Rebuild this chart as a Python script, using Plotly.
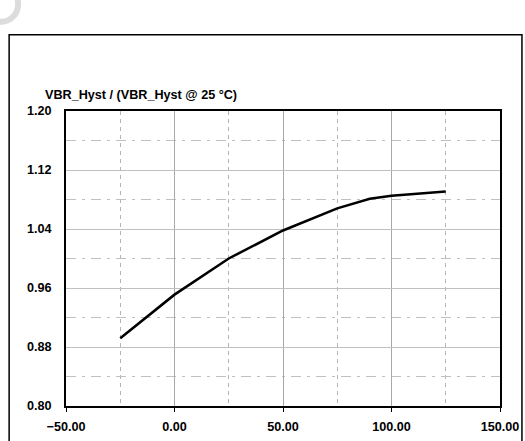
import plotly.graph_objects as go

temps = [-25, 0, 25, 50, 75, 90, 100, 125]
ratio = [0.892, 0.951, 1.000, 1.038, 1.068, 1.081, 1.085, 1.091]
x_ticks = [-50, 0, 50, 100, 150]
y_ticks = [0.80, 0.88, 0.96, 1.04, 1.12, 1.20]
x_minor = [-25, 25, 75, 125]
y_minor = [0.84, 0.92, 1.00, 1.08, 1.16]
title = "VBR_Hyst / (VBR_Hyst @ 25 °C)"

S = 1.011
W, H = round(525 * S), round(441 * S)
L, R, T, B = 65 * S, 500 * S, 110 * S, 404 * S

def px(x):
    return (x * S - L) / (R - L)

def py(y):
    return (B - y * S) / (B - T)

fig = go.Figure()
fig.add_trace(go.Scatter(x=temps, y=ratio, mode="lines",
                         line=dict(color="black", width=2.5 * S), showlegend=False))

font = dict(family="Liberation Sans, Arial", size=12.5 * S, color="black", weight="bold")

fig.update_layout(
    width=W, height=H,
    margin=dict(l=L, r=W - R, t=T, b=H - B),
    paper_bgcolor="white", plot_bgcolor="white",
    xaxis=dict(range=[-50, 150], tickvals=x_ticks, tickformat=".2f",
               showgrid=True, gridcolor="#a8a8a8", gridwidth=1,
               showline=True, linecolor="black", linewidth=2, mirror=True,
               ticks="outside", ticklen=4, tickcolor="black", tickwidth=1,
               tickfont=font, zeroline=False, ticklabelstandoff=4,
               minor=dict(tickvals=x_minor, showgrid=True, gridcolor="#b4b4b4",
                          gridwidth=1, griddash="4px,4px")),
    yaxis=dict(range=[0.8, 1.2], tickvals=y_ticks, tickformat=".2f",
               showgrid=True, gridcolor="#c0c0c0", gridwidth=1.2,
               showline=True, linecolor="black", linewidth=2, mirror=True,
               ticks="", ticklabelstandoff=10,
               tickfont=font, zeroline=False,
               minor=dict(tickvals=y_minor, showgrid=True, gridcolor="#c0c0c0",
                          gridwidth=1.2, griddash="10px,6px,3px,6px")),
    annotations=[dict(text="<b>" + title + "</b>", x=px(42), y=py(94),
                      xref="paper", yref="paper", xanchor="left", yanchor="middle",
                      showarrow=False,
                      font=dict(family="Liberation Sans, Arial", size=12.5 * S, color="black"))],
    shapes=[
        dict(type="rect", xref="paper", yref="paper",
             x0=px(8), x1=px(522), y0=py(450), y1=py(34),
             line=dict(color="black", width=1.5), layer="below"),
        dict(type="circle", xref="paper", yref="paper",
             x0=px(-16), x1=px(17), y0=py(21), y1=py(-14),
             line=dict(color="#dcdcdc", width=6)),
    ],
)

fig.write_html("out.html", config={"displayModeBar": False},
               post_script="document.body.style.margin='0';document.body.style.overflow='hidden';")
